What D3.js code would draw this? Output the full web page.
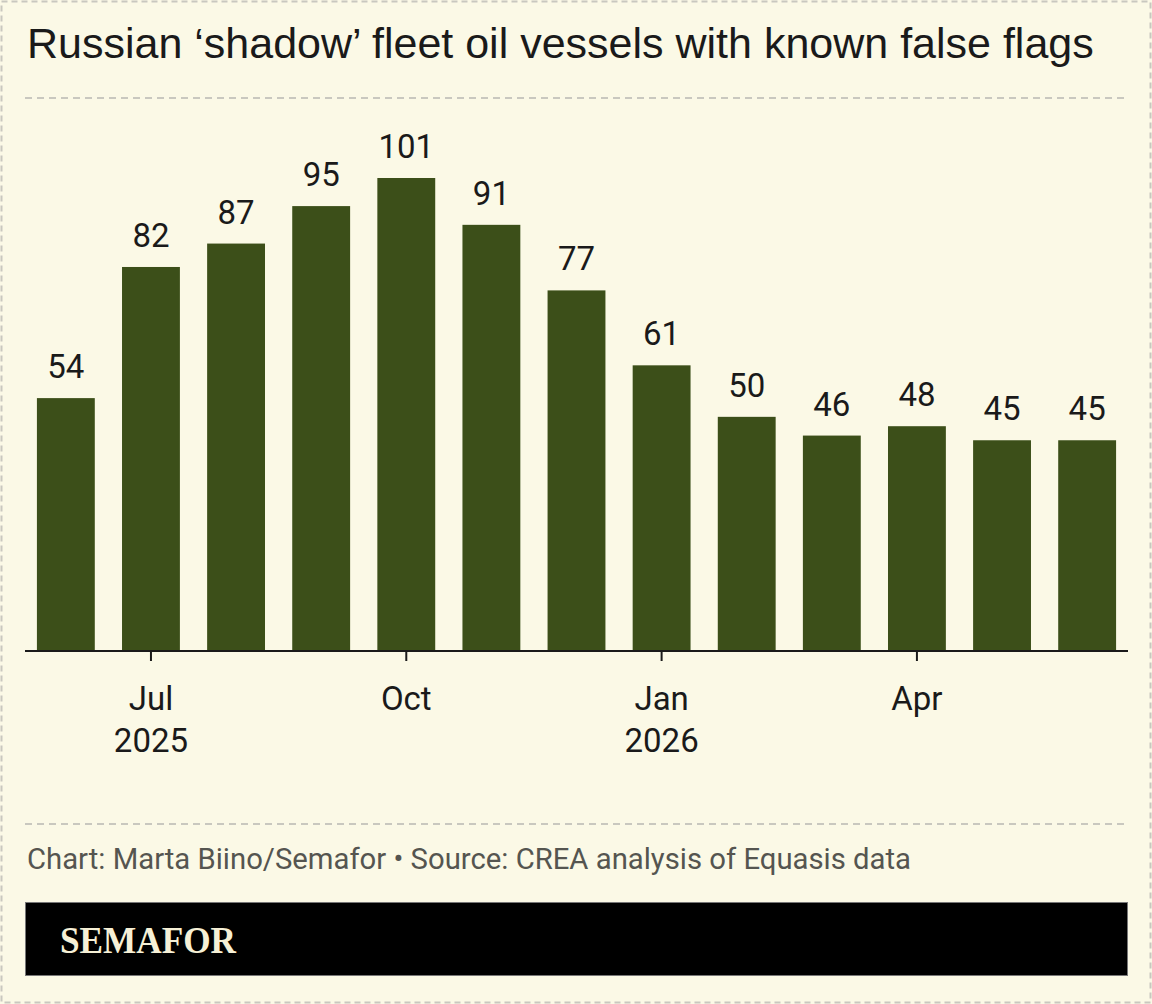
<!DOCTYPE html>
<html>
<head>
<meta charset="utf-8">
<script src="https://cdn.jsdelivr.net/npm/d3@7"></script>
<style>
  html, body { margin: 0; padding: 0; background: #fbf9e6; }
  svg { display: block; }
</style>
</head>
<body>
<svg id="chart"></svg>
<script>
// Data
const months = ["2025-06", "2025-07", "2025-08", "2025-09", "2025-10", "2025-11", "2025-12",
                "2026-01", "2026-02", "2026-03", "2026-04", "2026-05", "2026-06"];
const vessels = [54, 82, 87, 95, 101, 91, 77, 61, 50, 46, 48, 45, 45];
const tickMonths = ["2025-07", "2025-10", "2026-01", "2026-04"];
const tickLabels = [["Jul", "2025"], ["Oct"], ["Jan", "2026"], ["Apr"]];

const W = 1152, H = 1004;
const left = 25, right = 1128, baseY = 651, topY = 178;

const svg = d3.select("#chart").attr("width", W).attr("height", H);

svg.append("rect")
  .attr("x", 0).attr("y", 0).attr("width", W).attr("height", H)
  .attr("fill", "#fbf9e6");

// Outer dashed border
svg.append("rect")
  .attr("x", 1.5).attr("y", 1.5).attr("width", W - 3).attr("height", H - 3)
  .attr("fill", "none")
  .attr("stroke", "#c9c8bf").attr("stroke-width", 2)
  .attr("stroke-dasharray", "6,4");

// Title
svg.append("text")
  .attr("x", 27).attr("y", 58)
  .style("font-family", "'Liberation Sans', Arial, sans-serif")
  .style("font-size", "43px")
  .style("fill", "#1a1a1a")
  .text("Russian ‘shadow’ fleet oil vessels with known false flags");

// Separator lines
[98, 824].forEach(yy => {
  svg.append("line")
    .attr("x1", left).attr("x2", right).attr("y1", yy).attr("y2", yy)
    .attr("stroke", "#c9c8bf").attr("stroke-width", 2)
    .attr("stroke-dasharray", "7,5");
});

// Scales
const x = d3.scaleBand().domain(months).range([left, right])
  .paddingInner(0.32).paddingOuter(0.14);
const y = d3.scaleLinear().domain([0, d3.max(vessels)]).range([baseY, topY]);

const rows = months.map((m, i) => ({ month: m, value: vessels[i] }));

// Bars
svg.append("g").selectAll("rect")
  .data(rows).join("rect")
  .attr("x", d => x(d.month))
  .attr("y", d => y(d.value))
  .attr("width", x.bandwidth())
  .attr("height", d => baseY - y(d.value))
  .attr("fill", "#3c4f19");

// Value labels
svg.append("g").selectAll("text")
  .data(rows).join("text")
  .attr("x", d => x(d.month) + x.bandwidth() / 2)
  .attr("y", d => y(d.value) - 20)
  .attr("text-anchor", "middle")
  .style("font-family", "Roboto, sans-serif")
  .style("font-size", "33px")
  .style("fill", "#1a1a1a")
  .text(d => d.value);

// X axis
const xAxis = svg.append("g")
  .attr("transform", `translate(0,${baseY})`)
  .call(d3.axisBottom(x).tickValues(tickMonths).tickSize(10).tickSizeOuter(0).tickFormat(""))
  .call(ax => {
    ax.select(".domain").attr("d", `M${left},0H${right}`).attr("stroke", "#1a1a1a").attr("stroke-width", 2);
    ax.selectAll(".tick line").attr("stroke", "#1a1a1a").attr("stroke-width", 2);
  });

xAxis.selectAll(".tick").each(function(d) {
  const lines = tickLabels[tickMonths.indexOf(d)];
  const t = d3.select(this).append("text")
    .attr("text-anchor", "middle")
    .style("font-family", "Roboto, sans-serif")
    .style("font-size", "33px")
    .style("fill", "#1a1a1a");
  lines.forEach((ln, i) => {
    t.append("tspan").attr("x", 0).attr("y", 59 + i * 42).text(ln);
  });
});

// Source
svg.append("text")
  .attr("x", 27).attr("y", 869)
  .attr("textLength", 884).attr("lengthAdjust", "spacingAndGlyphs")
  .style("font-family", "Roboto, sans-serif")
  .style("font-size", "29px")
  .style("fill", "#555550")
  .text("Chart: Marta Biino/Semafor • Source: CREA analysis of Equasis data");

// Footer band
svg.append("rect")
  .attr("x", left + 0.5).attr("y", 902.5).attr("width", right - left - 1).attr("height", 73)
  .attr("fill", "#000")
  .attr("stroke", "#777").attr("stroke-width", 1);

svg.append("text")
  .attr("x", 60).attr("y", 953)
  .attr("textLength", 176).attr("lengthAdjust", "spacingAndGlyphs")
  .style("font-family", "'Liberation Serif', 'DejaVu Serif', serif")
  .style("font-weight", "bold")
  .style("font-size", "38px")
  .style("fill", "#f6f0d6")
  .text("SEMAFOR");
</script>
</body>
</html>
